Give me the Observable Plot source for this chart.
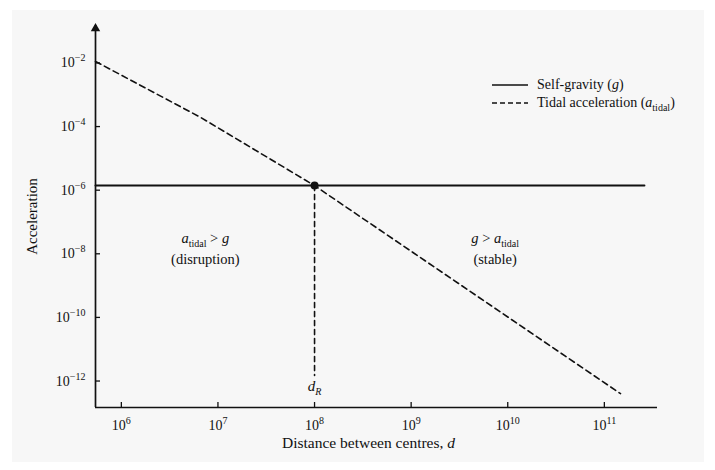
<!DOCTYPE html>
<html><head><meta charset="utf-8">
<script src="https://cdn.jsdelivr.net/npm/d3@7"></script>
<script src="https://cdn.jsdelivr.net/npm/@observablehq/plot@0.6"></script>
<style>
html,body{margin:0;padding:0;background:#fff;}
#panel{position:absolute;left:12px;top:10px;width:692px;height:452px;background:#f7f7f7;}
#chart{position:absolute;left:0;top:0;}
</style></head><body><div id="panel"></div><div id="chart"></div>
<script>
// ---- data ----
const xDomain = [5.4e5, 3.55e11];
const yDomain = [1.32e-13, 1.35e-1];
const xTicks = [1e6, 1e7, 1e8, 1e9, 1e10, 1e11];
const yTicks = [1e-12, 1e-10, 1e-8, 1e-6, 1e-4, 1e-2];

const gravityD = [5.4e5, 2.6e11];
const gravityA = [1.25e-6, 1.25e-6];

const tidalD = [5.4e5, 6.6e6, 1e8, 1.47e11];
const tidalA = [1e-2, 1.75e-4, 1.25e-6, 3.6e-13];

const dR = 1e8;
const gR = 1.25e-6;
const dRLineA = [1.25e-6, 1.35e-12];
const dRLabelA = 6e-13;
const dRLabel = "*d*_{*R*}";

const annoX = [7.4e6, 7.4e9];
const annoLine1 = ["*a*_{tidal} > *g*", "*g* > *a*_{tidal}"];
const annoLine2 = ["(disruption)", "(stable)"];
const annoY1 = 2.7e-8;
const annoY2 = 5.9e-9;

const xLabel = "Distance between centres, *d*";
const yLabel = "Acceleration";
const legendLabels = ["Self-gravity (*g*)", "Tidal acceleration (*a*_{tidal})"];

// ---- tables ----
const gravity = gravityD.map((d, i) => ({d, a: gravityA[i]}));
const tidal = tidalD.map((d, i) => ({d, a: tidalA[i]}));
const dRLine = dRLineA.map(a => ({d: dR, a}));
const annos = annoX.map((x, i) => ({x, l1: annoLine1[i], l2: annoLine2[i]}));

const ink = "#111";
const powLabel = d => `10^{${String(Math.round(Math.log10(d))).replace("-", "\u2212")}}`;

const plot = Plot.plot({
  width: 715, height: 470,
  marginLeft: 95, marginRight: 58, marginTop: 25, marginBottom: 63,
  style: {fontFamily: "'Liberation Serif', 'Times New Roman', serif", fontSize: "14px", background: "transparent", color: ink},
  x: {type: "log", domain: xDomain},
  y: {type: "log", domain: yDomain},
  marks: [
    Plot.axisX({ticks: xTicks, tickSize: -5, tickPadding: 18, tickFormat: powLabel, label: null, fontSize: 14, strokeWidth: 1.3}),
    Plot.axisY({ticks: yTicks, tickSize: -5, tickPadding: 15, tickFormat: powLabel, label: null, fontSize: 14, strokeWidth: 1.3, dy: 1.5}),
    Plot.ruleY([yDomain[0]], {stroke: ink, strokeWidth: 1.7}),
    Plot.ruleX([xDomain[0]], {stroke: ink, strokeWidth: 1.7}),
    Plot.dot([xDomain[0]], {x: d => d, y: () => yDomain[1], symbol: "triangle", r: 3.5, fill: ink, stroke: null, dy: 3}),
    Plot.line(gravity, {x: "d", y: "a", stroke: ink, strokeWidth: 2}),
    Plot.line(tidal, {x: "d", y: "a", stroke: ink, strokeWidth: 1.6, strokeDasharray: "6,4"}),
    Plot.line(dRLine, {x: "d", y: "a", stroke: ink, strokeWidth: 1.6, strokeDasharray: "5,4"}),
    Plot.dot([{d: dR, a: gR}], {x: "d", y: "a", r: 4, fill: ink, stroke: null}),
    Plot.text([dRLabel], {x: () => dR, y: () => dRLabelA, text: d => d, fill: ink, fontSize: 15}),
    Plot.text(annos, {x: "x", y: () => annoY1, text: "l1", fill: ink, fontSize: 14.5}),
    Plot.text(annos, {x: "x", y: () => annoY2, text: "l2", fill: ink, fontSize: 14.5}),
    Plot.text([xLabel], {text: d => d, frameAnchor: "bottom", textAnchor: "middle", dy: 40, dx: -8, fill: ink, fontSize: 15.5}),
    Plot.text([yLabel], {text: d => d, frameAnchor: "left", textAnchor: "middle", rotate: -90, dx: -63, fill: ink, fontSize: 15})
  ]
});

const svg = d3.select(plot);
const leg = svg.append("g").attr("font-size", 14).attr("fill", ink).attr("text-anchor", "start");
const legendDash = [null, "5,3"];
legendLabels.forEach((label, i) => {
  const y = 85 + i * 18;
  leg.append("line").attr("x1", 492).attr("x2", 528).attr("y1", y).attr("y2", y)
    .attr("stroke", ink).attr("stroke-width", 1.7).attr("stroke-dasharray", legendDash[i]);
  leg.append("text").attr("x", 537).attr("y", y).attr("dy", "0.32em").text(label);
});

function rich(el) {
  const s = el.textContent;
  if (!/[_^*]/.test(s)) return;
  const sel = d3.select(el);
  sel.text(null);
  const re = /\*([^*]+)\*|([_^])\{([^}]*)\}|([^*_^]+)/g;
  let m, shift = 0;
  while ((m = re.exec(s))) {
    let txt, italic = false, target = 0, small = false;
    if (m[1] !== undefined) { txt = m[1]; italic = true; }
    else if (m[2]) {
      txt = m[3]; small = true; target = m[2] === "^" ? -6 : 4;
      if (/^\*.*\*$/.test(txt)) { txt = txt.slice(1, -1); italic = true; }
    } else txt = m[4];
    const t = sel.append("tspan").text(txt);
    if (italic) t.attr("font-style", "italic");
    if (small) t.attr("font-size", "10px");
    if (target !== shift) { t.attr("dy", target - shift); shift = target; }
  }
}
svg.selectAll("text").each(function() { rich(this); });

document.getElementById("chart").appendChild(plot);
</script></body></html>
